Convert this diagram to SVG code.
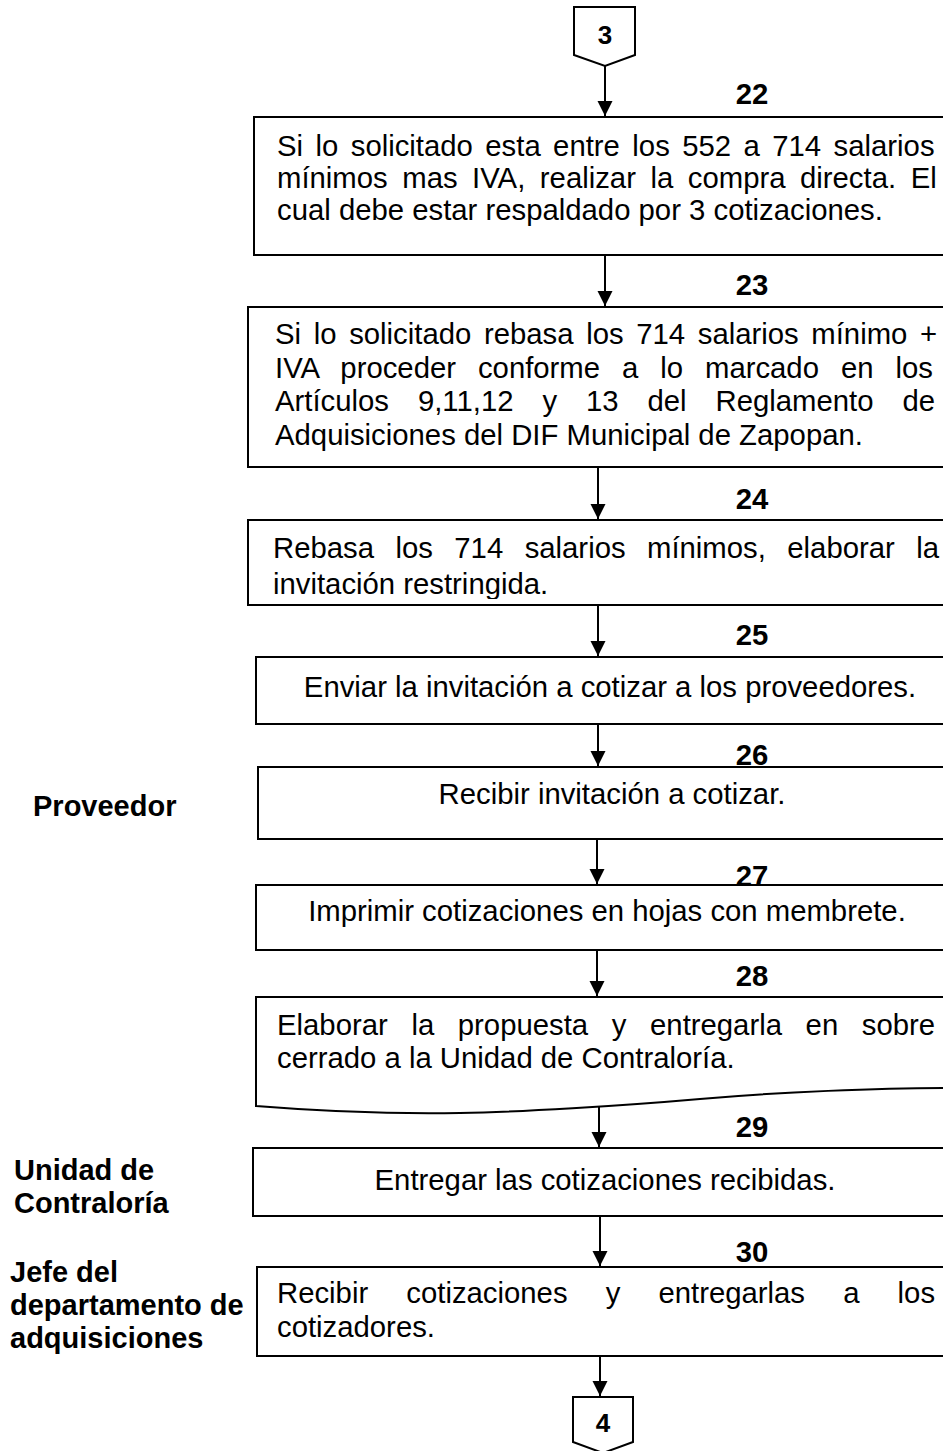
<svg xmlns="http://www.w3.org/2000/svg" width="943" height="1451" viewBox="0 0 943 1451">
<style>
.box{fill:#fff;stroke:#000;stroke-width:2}
.t{font-family:"Liberation Sans",Arial,sans-serif;font-size:29.3px;fill:#000}
.c{text-anchor:middle}
.b{font-family:"Liberation Sans",Arial,sans-serif;font-size:29px;font-weight:bold;fill:#000}
.n{font-family:"Liberation Sans",Arial,sans-serif;font-size:29.3px;font-weight:bold;fill:#000;text-anchor:middle}
.cn{font-family:"Liberation Sans",Arial,sans-serif;font-size:26px;font-weight:bold;fill:#000;text-anchor:middle}
.ar{stroke:#000;stroke-width:2;fill:none;marker-end:url(#ah)}
</style>
<defs>
<marker id="ah" markerUnits="userSpaceOnUse" markerWidth="16" markerHeight="16" refX="15" refY="7.5" orient="auto">
<path d="M0,0 L15,7.5 L0,15 z" fill="#000"/>
</marker>
<clipPath id="c24"><rect x="248" y="520" width="700" height="79"/></clipPath>
</defs>

<g id="connectors">
<line class="ar" x1="605" y1="66" x2="605" y2="116"/>
<line class="ar" x1="605" y1="255" x2="605" y2="306"/>
<line class="ar" x1="598" y1="467" x2="598" y2="519"/>
<line class="ar" x1="598" y1="605" x2="598" y2="656"/>
<line class="ar" x1="598" y1="724" x2="598" y2="766"/>
<line class="ar" x1="597" y1="839" x2="597" y2="884"/>
<line class="ar" x1="597" y1="950" x2="597" y2="996"/>
<line class="ar" x1="599" y1="1106" x2="599" y2="1147"/>
<line class="ar" x1="600" y1="1216" x2="600" y2="1266"/>
<line class="ar" x1="600" y1="1356" x2="600" y2="1396"/>
</g>

<g id="conn3">
<polygon class="box" points="574,7 635,7 635,55 605,66 574,55"/>
<text class="cn" x="605" y="44">3</text>
</g>

<g id="n22">
<text class="n" x="752" y="104">22</text>
<rect class="box" x="254" y="117" width="700" height="138"/>
<text class="t" x="277" y="156" word-spacing="4.3">Si lo solicitado esta entre los 552 a 714 salarios</text>
<text class="t" x="277" y="188" word-spacing="6.4">mínimos mas IVA, realizar la compra directa. El</text>
<text class="t" x="277" y="220">cual debe estar respaldado por 3 cotizaciones.</text>
</g>

<g id="n23">
<text class="n" x="752" y="295">23</text>
<rect class="box" x="248" y="307" width="706" height="160"/>
<text class="t" x="275" y="344" word-spacing="4.5">Si lo solicitado rebasa los 714 salarios mínimo +</text>
<text class="t" x="275" y="378" word-spacing="13.8">IVA proceder conforme a lo marcado en los</text>
<text class="t" x="275" y="411" word-spacing="20.8">Artículos 9,11,12 y 13 del Reglamento de</text>
<text class="t" x="275" y="445">Adquisiciones del DIF Municipal de Zapopan.</text>
</g>

<g id="n24">
<text class="n" x="752" y="509">24</text>
<rect class="box" x="248" y="520" width="706" height="85"/>
<g clip-path="url(#c24)">
<text class="t" x="273" y="558" word-spacing="13.3">Rebasa los 714 salarios mínimos, elaborar la</text>
<text class="t" x="273" y="594">invitación restringida.</text>
</g>
</g>

<g id="n25">
<text class="n" x="752" y="645">25</text>
<rect class="box" x="256" y="657" width="698" height="67"/>
<text class="t c" x="610" y="697">Enviar la invitación a cotizar a los proveedores.</text>
</g>

<g id="n26">
<text class="n" x="752" y="765">26</text>
<rect class="box" x="258" y="767" width="696" height="72"/>
<text class="t c" x="612" y="804">Recibir invitación a cotizar.</text>
</g>

<g id="n27">
<rect class="box" x="256" y="885" width="698" height="65"/>
<text class="n" x="752" y="886">27</text>
<text class="t c" x="607" y="921">Imprimir cotizaciones en hojas con membrete.</text>
</g>

<g id="n28">
<text class="n" x="752" y="986">28</text>
<path class="box" d="M256,1106 L256,997 L954,997 L954,1088 L945,1088 C880,1088 780,1092 700,1099 C620,1106 520,1112 460,1113 C400,1114 330,1112 256,1106 Z"/>
<text class="t" x="277" y="1035" word-spacing="15.5">Elaborar la propuesta y entregarla en sobre</text>
<text class="t" x="277" y="1068">cerrado a la Unidad de Contraloría.</text>
</g>

<g id="n29">
<text class="n" x="752" y="1137">29</text>
<rect class="box" x="253" y="1148" width="701" height="68"/>
<text class="t c" x="605" y="1190">Entregar las cotizaciones recibidas.</text>
</g>

<g id="n30">
<text class="n" x="752" y="1262">30</text>
<rect class="box" x="257" y="1267" width="697" height="89"/>
<text class="t" x="277" y="1303" word-spacing="30">Recibir cotizaciones y entregarlas a los</text>
<text class="t" x="277" y="1337">cotizadores.</text>
</g>

<g id="conn4">
<polygon class="box" points="573,1397 633,1397 633,1442 603,1453 573,1442"/>
<text class="cn" x="603" y="1432">4</text>
</g>

<g id="lanes">
<text class="b" x="33" y="816">Proveedor</text>
<text class="b" x="14" y="1180">Unidad de</text>
<text class="b" x="14" y="1213">Contraloría</text>
<text class="b" x="10" y="1282">Jefe del</text>
<text class="b" x="10" y="1315">departamento de</text>
<text class="b" x="10" y="1348">adquisiciones</text>
</g>
</svg>
